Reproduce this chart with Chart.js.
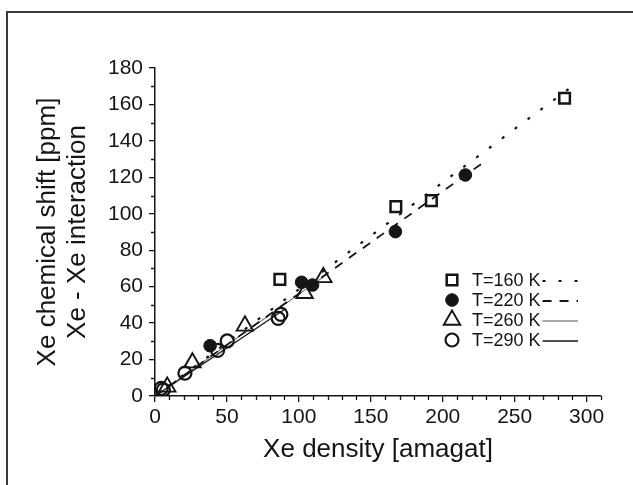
<!DOCTYPE html>
<html>
<head>
<meta charset="utf-8">
<script src="https://cdn.jsdelivr.net/npm/chart.js@4.4.1/dist/chart.umd.min.js"></script>
<style>
  html, body { margin: 0; padding: 0; background: #fff; overflow: hidden; }
  #wrap { position: relative; width: 633px; height: 485px; }
  #frame { position: absolute; left: 6px; top: 11px; width: 660px; height: 520px; border: 2px solid #3a3a3a; box-sizing: border-box; }
  canvas { position: absolute; left: 0; top: 0; }
</style>
</head>
<body>
<div id="wrap">
  <div id="frame"></div>
  <canvas id="chart" width="633" height="485"></canvas>
</div>
<script>
const density160 = [86.8, 167.4, 192.1, 284.7];
const shift160 = [64.0, 103.9, 107.2, 163.4];
const density220 = [38.3, 101.9, 109.5, 167.1, 215.7];
const shift220 = [27.6, 62.4, 60.9, 90.2, 121.3];
const density260 = [8.5, 26.0, 62.5, 104.0, 117.0];
const shift260 = [5.0, 18.3, 38.5, 56.4, 65.1];
const density290 = [4.3, 5.8, 20.8, 43.5, 50.2, 85.6, 87.5];
const shift290 = [4.2, 3.4, 12.5, 25.0, 30.2, 42.6, 44.8];

// fitted lines (end points)
const fitDensity160 = [0, 293.5];
const fitShift160 = [0, 172.0];
const fitDensity220 = [0, 229.0];
const fitShift220 = [0, 128.6];
const fitDensity260 = [0, 120.0];
const fitShift260 = [0, 67.0];
const fitDensity290 = [0, 91.0];
const fitShift290 = [0, 48.0];

const legendLabels = ['T=160 K', 'T=220 K', 'T=260 K', 'T=290 K'];
const xTitle = 'Xe density [amagat]';
const yTitle = ['Xe chemical shift [ppm]', 'Xe - Xe interaction'];
const xTickValues = [0, 50, 100, 150, 200, 250, 300];

const xMajor = 50, xMinor = 10;
const yMajor = 20, yMinor = 10;

const ink = '#151515';
const font = "'Liberation Sans', Arial, sans-serif";

const toPoints = (xs, ys) => xs.map((x, i) => ({ x: x, y: ys[i] }));

const pointSet = (label, xs, ys, style, radius, fill, width) => ({
  label: label,
  data: toPoints(xs, ys),
  showLine: false,
  pointStyle: style,
  pointRadius: radius,
  pointHoverRadius: radius,
  pointBackgroundColor: fill,
  pointBorderColor: ink,
  pointBorderWidth: width,
});

const fitSet = (xs, ys, dash, color, width) => ({
  data: toPoints(xs, ys),
  showLine: true,
  pointRadius: 0,
  borderColor: color,
  borderWidth: width,
  borderDash: dash,
  fill: false,
});

// minor tick marks between the labelled ones
const minorTicks = {
  id: 'minorTicks',
  afterDraw(chart) {
    const { ctx } = chart;
    const x = chart.scales.x;
    const y = chart.scales.y;
    ctx.save();
    ctx.strokeStyle = ink;
    ctx.lineWidth = 1.3;
    ctx.beginPath();
    for (let v = x.min; v <= x.max; v += xMinor) {
      if (v % xMajor === 0) continue;
      const px = Math.round(x.getPixelForValue(v)) + 0.5;
      ctx.moveTo(px, x.top);
      ctx.lineTo(px, x.top + 4);
    }
    for (let v = y.min; v <= y.max; v += yMinor) {
      if (v % yMajor === 0) continue;
      const py = Math.round(y.getPixelForValue(v)) + 0.5;
      ctx.moveTo(y.right, py);
      ctx.lineTo(y.right - 4, py);
    }
    ctx.stroke();
    ctx.restore();
  }
};

// legend: marker, label, then line sample
const sideLegend = {
  id: 'sideLegend',
  afterDraw(chart) {
    const { ctx, chartArea } = chart;
    const sets = chart.data.datasets;
    ctx.save();
    ctx.font = '18px ' + font;
    ctx.textBaseline = 'middle';
    legendLabels.forEach((label, i) => {
      const pts = sets[i];
      const fit = sets[i + 4];
      const mx = chartArea.left + 297;
      const my = chartArea.top + 212 + i * 20;
      ctx.fillStyle = pts.pointBackgroundColor;
      ctx.strokeStyle = ink;
      ctx.lineWidth = pts.pointBorderWidth;
      ctx.setLineDash([]);
      Chart.helpers.drawPoint(ctx, {
        pointStyle: pts.pointStyle,
        radius: pts.pointRadius,
        rotation: 0,
        borderWidth: pts.pointBorderWidth
      }, mx, my);
      ctx.fillStyle = ink;
      ctx.fillText(label, mx + 20, my + 1);
      const tw = ctx.measureText(label).width;
      ctx.beginPath();
      ctx.strokeStyle = fit.borderColor;
      ctx.lineWidth = fit.borderWidth;
      ctx.setLineDash(fit.borderDash);
      ctx.moveTo(mx + 22 + tw, my + 1);
      ctx.lineTo(mx + 126, my + 1);
      ctx.stroke();
    });
    ctx.restore();
  }
};

new Chart(document.getElementById('chart').getContext('2d'), {
  type: 'scatter',
  data: {
    datasets: [
      pointSet('T=160 K', density160, shift160, 'rect', 7.5, 'rgba(0,0,0,0)', 2.5),
      pointSet('T=220 K', density220, shift220, 'circle', 6.3, ink, 1),
      pointSet('T=260 K', density260, shift260, 'triangle', 9.5, 'rgba(0,0,0,0)', 1.9),
      pointSet('T=290 K', density290, shift290, 'circle', 6.5, 'rgba(0,0,0,0)', 2.2),
      fitSet(fitDensity160, fitShift160, [3, 13], ink, 2.2),
      fitSet(fitDensity220, fitShift220, [9, 8], ink, 1.8),
      fitSet(fitDensity260, fitShift260, [], '#555', 1),
      fitSet(fitDensity290, fitShift290, [], ink, 1.3),
    ]
  },
  options: {
    responsive: false,
    animation: false,
    layout: { padding: { top: 68, right: 32, left: 0, bottom: 0 } },
    plugins: {
      legend: { display: false },
      tooltip: { enabled: false },
    },
    scales: {
      x: {
        type: 'linear',
        min: 0,
        max: 310,
        afterFit: (scale) => { scale.height = 89; },
        afterBuildTicks: (scale) => {
          scale.ticks = xTickValues.map(v => ({ value: v }));
        },
        ticks: { stepSize: xMajor, color: ink, padding: 3, font: { family: font, size: 21 } },
        grid: { drawOnChartArea: false, tickLength: 6, color: ink, lineWidth: 1.3 },
        border: { color: ink, width: 1.5 },
        title: {
          display: true,
          text: xTitle,
          color: ink,
          font: { family: font, size: 26 },
          padding: { top: 0, bottom: 20 },
        },
      },
      y: {
        type: 'linear',
        min: 0,
        max: 180,
        afterFit: (scale) => { scale.width = 155; },
        ticks: { stepSize: yMajor, color: ink, padding: 6, font: { family: font, size: 21 } },
        grid: { drawOnChartArea: false, tickLength: 6, color: ink, lineWidth: 1.3 },
        border: { color: ink, width: 1.5 },
        title: {
          display: true,
          text: yTitle,
          color: ink,
          font: { family: font, size: 26, lineHeight: 1.15 },
          padding: { top: 33, bottom: 0 },
        },
      },
    },
  },
  plugins: [minorTicks, sideLegend],
});
</script>
</body>
</html>
